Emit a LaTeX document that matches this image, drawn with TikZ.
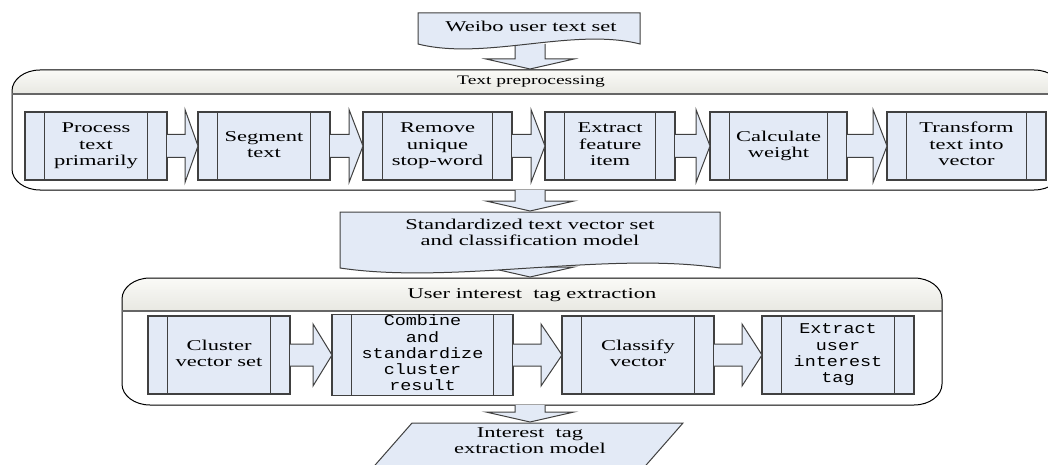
\documentclass[tikz,border=0pt]{standalone}
\usepackage{fontspec}
\setmainfont{Liberation Serif}
\newfontfamily\serf{Liberation Serif}
\newfontfamily\monof{Liberation Mono}
\usetikzlibrary{calc}
\definecolor{boxfill}{RGB}{227,234,246}
\definecolor{edge}{RGB}{64,64,64}
\definecolor{hdtop}{RGB}{250,250,247}
\definecolor{hdbot}{RGB}{232,232,226}
\newcommand\wide[2]{\scalebox{#1}[1]{\begin{tabular}{@{}c@{}}#2\end{tabular}}}
\newcommand\serifsz{\serf\fontsize{15}{16.5}\selectfont}
\newcommand\monosz{\monof\fontsize{15}{16.2}\selectfont}
\newcommand\bands[1]{\draw[edge, line width=1.2pt] ([xshift=19.5pt]#1.north west) -- ([xshift=19.5pt]#1.south west) ([xshift=-19.5pt]#1.north east) -- ([xshift=-19.5pt]#1.south east);}
% #1 from, #2 to, #3 head length, #4 stem half, #5 head half
\newcommand\harr[5]{\draw[blk] let \p1=(#1.east), \p2=(#2.west) in (\x1,\y1+#4) -- (\x2-#3,\y1+#4) -- (\x2-#3,\y1+#5) -- (\x2,\y1) -- (\x2-#3,\y1-#5) -- (\x2-#3,\y1-#4) -- (\x1,\y1-#4);}
% #1 stem start, #2 tip
\newcommand\varr[2]{\draw[blk] let \p1=(#1), \p2=(#2) in (\x2-15pt,\y1) -- (\x2-15pt,\y2+10pt) -- (\x2-44pt,\y2+10pt) -- (\x2,\y2) -- (\x2+44pt,\y2+10pt) -- (\x2+15pt,\y2+10pt) -- (\x2+15pt,\y1);}
% container path: left, right, top, bottom
\newcommand\contpath[4]{(#1+28,#3) -- (#2-28,#3) arc[start angle=90,end angle=0,x radius=28pt,y radius=21pt] -- (#2,#4-21) arc[start angle=0,end angle=-90,x radius=28pt,y radius=21pt] -- (#1+28,#4) arc[start angle=270,end angle=180,x radius=28pt,y radius=21pt] -- (#1,#3+21) arc[start angle=180,end angle=90,x radius=28pt,y radius=21pt] -- cycle}
\tikzset{
  blk/.style={draw=edge, fill=boxfill, line width=1pt, line join=miter},
  stepbox/.style={draw=edge, fill=boxfill, line width=1.2pt, inner sep=0pt, outer sep=0pt, align=center},
  docshape/.style={draw=edge, fill=boxfill, line width=1pt},
  frame/.style={draw=black, line width=1pt},
  hline/.style={draw=black!60, line width=2pt},
  lbl/.style={inner sep=0pt, outer sep=0pt, font=\serifsz}
}
\begin{document}
\begin{tikzpicture}[x=1pt,y=-1pt]
\useasboundingbox (0,0) rectangle (1048,465);
\clip (0,0) rectangle (1048,465);
\fill[white] (0,0) rectangle (1048,465);

% ---- container 1
\fill[white] \contpath{12}{1062}{70}{190};
\begin{scope}
  \clip \contpath{12}{1062}{70}{190};
  \shade[top color=hdtop, bottom color=hdbot] (0,70) rectangle (1070,94);
\end{scope}
\draw[frame] \contpath{12}{1062}{70}{190};
\draw[hline] (12,94) -- (1062,94);
\node[lbl, font=\serf\fontsize{13}{14}\selectfont] (t1) at (531,82) {\wide{1.5}{Text preprocessing}};

% ---- container 2
\fill[white] \contpath{122}{942}{278}{405};
\begin{scope}
  \clip \contpath{122}{942}{278}{405};
  \shade[top color=hdtop, bottom color=hdbot] (100,278) rectangle (960,311);
\end{scope}
\draw[frame] \contpath{122}{942}{278}{405};
\draw[hline] (122,311) -- (942,311);
\node[lbl] (t2) at (532,295) {\serifsz\wide{1.5}{User interest~~tag extraction}};

% ---- connection coordinates
\coordinate (d1b) at (530,44);
\coordinate (c1t) at (530,69);
\coordinate (c1b) at (530,190);
\coordinate (d2t) at (530,211);
\coordinate (d2b) at (530,262);
\coordinate (c2t) at (530,277);
\coordinate (c2b) at (530,405);
\coordinate (pt) at (530,422);

\varr{d1b}{c1t}
\varr{c1b}{d2t}
\varr{d2b}{c2t}
\varr{c2b}{pt}

% ---- document 1
\draw[docshape] (418,13) -- (640,13) -- (640,44) .. controls (573,27) and (485,61) .. (418,44) -- cycle;
\node[lbl] (doc1) at (531,28) {\serifsz\wide{1.5}{Weibo user text set}};

% ---- document 2
\draw[docshape] (340,212) -- (720,212) -- (720,268) .. controls (606,251) and (454,285) .. (340,268) -- cycle;
\node[lbl] (doc2) at (530,234) {\serifsz\wide{1.5}{Standardized text vector set\\and classification model}};

% ---- output parallelogram
\draw[docshape] (412,423) -- (683,423) -- (633,480) -- (362,480) -- cycle;
\node[lbl] (out) at (530,442) {\serifsz\wide{1.5}{Interest~~tag\\extraction model}};

% ---- row 1
\node[stepbox, minimum width=142pt, minimum height=68pt] (p1) at (96,146) {\serifsz\wide{1.5}{Process\\text\\primarily}};
\node[stepbox, minimum width=132pt, minimum height=68pt] (p2) at (264,146) {\serifsz\wide{1.5}{Segment\\text}};
\node[stepbox, minimum width=149pt, minimum height=68pt] (p3) at (437.5,146) {\serifsz\wide{1.5}{Remove\\unique\\stop-word}};
\node[stepbox, minimum width=130pt, minimum height=68pt] (p4) at (610,146) {\serifsz\wide{1.5}{Extract\\feature\\item}};
\node[stepbox, minimum width=137pt, minimum height=68pt] (p5) at (778.5,146) {\serifsz\wide{1.5}{Calculate\\weight}};
\node[stepbox, minimum width=159pt, minimum height=68pt] (p6) at (966.5,146) {\serifsz\wide{1.5}{Transform\\text into\\vector}};
\foreach \n in {p1,p2,p3,p4,p5,p6} {\bands{\n}}
\harr{p1}{p2}{13pt}{11.5pt}{36.5pt}
\harr{p2}{p3}{14pt}{11.5pt}{36.5pt}
\harr{p3}{p4}{14pt}{11.5pt}{36.5pt}
\harr{p4}{p5}{14pt}{11.5pt}{36.5pt}
\harr{p5}{p6}{14pt}{11.5pt}{36.5pt}

% ---- row 2
\node[stepbox, minimum width=142pt, minimum height=78pt] (q1) at (219,355) {\serifsz\wide{1.5}{Cluster\\vector set}};
\node[stepbox, minimum width=181pt, minimum height=78pt] (q2) at (422.5,355) {\monosz\wide{1.23}{Combine\\and\\standardize\\cluster\\result}};
\node[stepbox, minimum width=152pt, minimum height=78pt] (q3) at (638,355) {\serifsz\wide{1.5}{Classify\\vector}};
\node[stepbox, minimum width=152pt, minimum height=78pt] (q4) at (838,355) {\monosz\wide{1.23}{Extract\\user\\interest\\tag}};
\foreach \n in {q1,q2,q3,q4} {\bands{\n}}
\harr{q1}{q2}{19pt}{11pt}{31pt}
\harr{q2}{q3}{21pt}{11pt}{31pt}
\harr{q3}{q4}{20pt}{11pt}{31pt}
\end{tikzpicture}
\end{document}
